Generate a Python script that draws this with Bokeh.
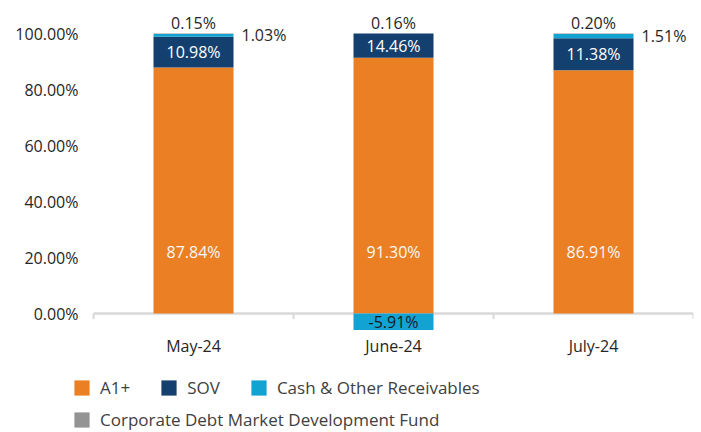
from bokeh.plotting import figure
from bokeh.models import (ColumnDataSource, LabelSet, Legend, LegendItem,
                          FixedTicker, PrintfTickFormatter, Range1d)
from bokeh.core.properties import value
from bokeh.embed import file_html
from bokeh.resources import INLINE

# ---- data ----
categories = ["May-24", "June-24", "July-24"]
a1_plus = [87.84, 91.30, 86.91]
sov = [10.98, 14.46, 11.38]
cash = [1.03, -5.91, 1.51]
cdmdf = [0.15, 0.16, 0.20]
series_names = ["A1+", "SOV", "Cash & Other Receivables",
                "Corporate Debt Market Development Fund"]
y_ticks = [0, 20, 40, 60, 80, 100]

# ---- style / geometry ----
colors = ["#EB7F24", "#14406F", "#12A3D3", "#939393"]
FONT = "Open Sans"
TXT = "#262626"
AXIS_MAX = 100          # value axis capped at 100%
W, H = 701, 432
LEFT = 72               # frame left edge (px)
RIGHT_PAD = 8
PLOT_LEFT = 93          # where the category axis starts (px)
PX_PER_CAT = 200
PX_PER_UNIT = 2.8       # pixels per percent
ZERO_PX = 313           # pixel row of 0%
CAT_LABEL_PX = 345
BAR_W = 0.4
A1_LABEL_Y = 22

n = len(categories)
Y_END = ZERO_PX / PX_PER_UNIT
Y_START = -(H - ZERO_PX) / PX_PER_UNIT
X_START = -(PLOT_LEFT - LEFT) / PX_PER_CAT
X_END = X_START + (W - LEFT - RIGHT_PAD) / PX_PER_CAT
CAT_LABEL_Y = -(CAT_LABEL_PX - ZERO_PX) / PX_PER_UNIT
xc = [i + 0.5 for i in range(n)]

series = [a1_plus, sov, cash, cdmdf]

# stack positives and negatives separately (Excel style)
pos = [0.0] * n
neg = [0.0] * n
stacks = []
for vals in series:
    b, t = [], []
    for i, v in enumerate(vals):
        if v >= 0:
            b.append(pos[i]); t.append(pos[i] + v); pos[i] += v
        else:
            b.append(neg[i] + v); t.append(neg[i]); neg[i] += v
    stacks.append((b, t))

p = figure(x_range=Range1d(X_START, X_END), y_range=Range1d(Y_START, Y_END),
           frame_width=W - LEFT - RIGHT_PAD, frame_height=H,
           min_border_left=LEFT, min_border_right=RIGHT_PAD, min_border_top=0,
           min_border_bottom=0, x_axis_location=None,
           output_backend="svg", toolbar_location=None)
p.outline_line_color = None
p.xgrid.visible = False
p.ygrid.visible = False
p.background_fill_color = "white"
p.border_fill_color = "white"

# category axis line and separator ticks
p.segment(x0=[0], x1=[n], y0=[0], y1=[0], line_color="#D9D9D9", line_width=2.5)
p.segment(x0=list(range(n + 1)), x1=list(range(n + 1)), y0=[0] * (n + 1),
          y1=[-2] * (n + 1), line_color="#D9D9D9", line_width=2)

renderers = []
sources = []
for vals, (b, t), c in zip(series, stacks, colors):
    vb = [min(bb, AXIS_MAX) for bb in b]
    vt = [min(tt, AXIS_MAX) for tt in t]
    mid = [(x0 + x1) / 2 for x0, x1 in zip(vb, vt)]
    src = ColumnDataSource(dict(x=xc, bottom=vb, top=vt, mid=mid,
                                base=[A1_LABEL_Y] * n,
                                label=[f"{v:.2f}%" for v in vals]))
    r = p.vbar(x="x", bottom="bottom", top="top", width=BAR_W, fill_color=c,
               line_color=None, source=src)
    renderers.append(r)
    sources.append(src)

lab_common = dict(text_font=value(FONT), text_font_size=value("16px"))
# A1+
p.add_layout(LabelSet(x="x", y="base", text="label", source=sources[0],
                      text_align="center", text_baseline="middle",
                      text_color="#F8F8F8", **lab_common))
# SOV
p.add_layout(LabelSet(x="x", y="mid", text="label", source=sources[1],
                      text_align="center", text_baseline="middle",
                      text_color="#FFFFFF", **lab_common))
# Cash: positive -> right of bar, negative -> inside
cpos = [i for i, v in enumerate(cash) if v >= 0]
cneg = [i for i, v in enumerate(cash) if v < 0]
d = sources[2].data
src_cpos = ColumnDataSource({k: [d[k][i] for i in cpos] for k in d})
src_cneg = ColumnDataSource({k: [d[k][i] for i in cneg] for k in d})
p.add_layout(LabelSet(x="x", y="mid", text="label", source=src_cpos,
                      text_align="left", text_baseline="middle", x_offset=48,
                      text_color=TXT, **lab_common))
p.add_layout(LabelSet(x="x", y="mid", text="label", source=src_cneg,
                      text_align="center", text_baseline="middle",
                      text_color="#1A1A1A", **lab_common))
# CDMDF above
p.add_layout(LabelSet(x="x", y="top", text="label", source=sources[3],
                      text_align="center", text_baseline="middle", y_offset=11,
                      text_color=TXT, **lab_common))

# category labels
p.text(x=xc, y=[CAT_LABEL_Y] * n, text=categories, text_align="center",
       text_baseline="middle", text_color=TXT, text_font=value(FONT),
       text_font_size="16px")

# value axis
p.yaxis.ticker = FixedTicker(ticks=y_ticks)
p.yaxis.formatter = PrintfTickFormatter(format="%.2f%%")
p.yaxis.axis_line_color = None
p.yaxis.major_tick_line_color = None
p.yaxis.minor_tick_line_color = None
p.yaxis.major_tick_out = 0
p.yaxis.major_tick_in = 0
p.yaxis.major_label_standoff = -(PLOT_LEFT - LEFT - 15)
p.yaxis.major_label_text_font = FONT
p.yaxis.major_label_text_font_size = "16px"
p.yaxis.major_label_text_color = TXT

# legends
items = [LegendItem(label=nm, renderers=[r]) for nm, r in zip(series_names, renderers)]
leg_common = dict(orientation="horizontal", border_line_color=None,
                  background_fill_alpha=0, padding=0, margin=0, spacing=29,
                  label_standoff=9, glyph_width=19, glyph_height=19,
                  label_text_font=FONT, label_text_font_size="17px",
                  label_text_color="#404040")
p.add_layout(Legend(items=items[:3], location=(0, 33.5), **leg_common))
p.add_layout(Legend(items=items[3:], location=(0, 1.5), **leg_common))

open("out.html", "w").write(file_html(p, INLINE))
